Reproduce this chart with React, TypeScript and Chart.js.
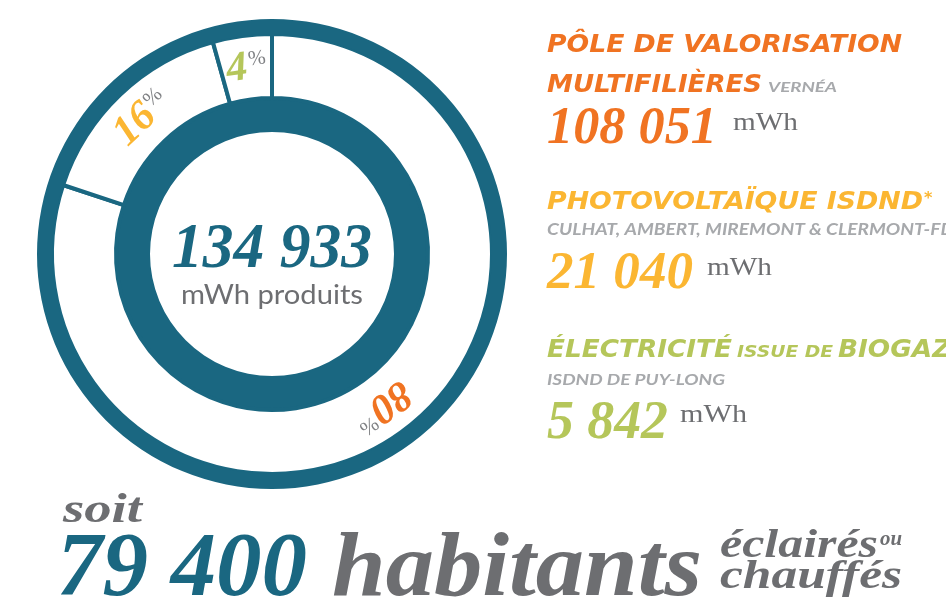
import { useEffect, useRef } from 'react';
import { Chart, registerables } from 'chart.js';

Chart.register(...registerables);

// ---- data ----
const categories = ['Pôle de valorisation multifilières', 'Photovoltaïque ISDND', 'Électricité issue de biogaz'];
const productionMWh = [108051, 21040, 5842];
const inhabitants = 79400;

const headingLine1 = ['PÔLE DE VALORISATION', 'PHOTOVOLTAÏQUE ISDND', 'ÉLECTRICITÉ'];
const headingLine2 = ['MULTIFILIÈRES', '', ''];
const headingSmall = ['VERNÉA', '', 'ISSUE DE'];
const headingTail = ['', '*', 'BIOGAZ'];
const siteLabels = ['', 'CULHAT, AMBERT, MIREMONT & CLERMONT-FD', 'ISDND DE PUY-LONG'];

const TEAL = '#1a6781';
const ORANGE = '#f07322';
const YELLOW = '#fbb632';
const GREEN = '#b5c65a';
const GREY = '#6d6e71';
const LGREY = '#a7a9ac';
const seriesColors = [ORANGE, YELLOW, GREEN];

const fmt = (n: number) => String(n).replace(/\B(?=(\d{3})+(?!\d))/g, ' ');

const serifBI = (s: number) => `italic bold ${s}px "Liberation Serif"`;
const serifR = (s: number) => `${s}px "Liberation Serif"`;
const headBI = (s: number) => `italic bold ${s}px "DejaVu Sans"`;
const sansBI = (s: number) => `italic bold ${s}px Lato`;
const sansR = (s: number) => `${s}px Lato`;

function put(ctx: CanvasRenderingContext2D, text: string, x: number, y: number, font: string, color: string, width = 0, sx = 0) {
  ctx.save();
  ctx.font = font;
  ctx.fillStyle = color;
  ctx.textAlign = 'left';
  ctx.textBaseline = 'alphabetic';
  const m = ctx.measureText(text).width || 1;
  const s = sx || (width ? width / m : 1);
  ctx.translate(x, y);
  ctx.scale(s, 1);
  ctx.fillText(text, 0, 0);
  ctx.restore();
  return s;
}

const textPlugin = {
  id: 'infoText',
  afterDraw(chart: any) {
    const ctx: CanvasRenderingContext2D = chart.ctx;
    const total = productionMWh.reduce((a, b) => a + b, 0);

    // percent labels on segments
    const meta = chart.getDatasetMeta(1);
    meta.data.forEach((arc: any, i: number) => {
      const a = (arc.startAngle + arc.endAngle) / 2;
      const r = (arc.innerRadius + arc.outerRadius) / 2 + 3;
      const px = arc.x + Math.cos(a) * r;
      const py = arc.y + Math.sin(a) * r;
      const pct = String(Math.round((productionMWh[i] / total) * 100));
      ctx.save();
      ctx.translate(px, py);
      ctx.rotate(a + Math.PI / 2);
      ctx.font = serifBI(42);
      const nw = ctx.measureText(pct).width;
      ctx.font = serifR(21);
      const pw = ctx.measureText('%').width;
      const tw = nw + 2 + pw;
      ctx.textBaseline = 'alphabetic';
      ctx.font = serifBI(42);
      ctx.fillStyle = seriesColors[i];
      ctx.fillText(pct, -tw / 2, 14);
      ctx.font = serifR(21);
      ctx.fillStyle = '#808285';
      ctx.fillText('%', -tw / 2 + nw + 2, 1);
      ctx.restore();
    });

    // center
    const cx = meta.data[0] ? meta.data[0].x : 272;
    put(ctx, fmt(total), cx - 100, 267, serifBI(63), TEAL, 200);
    put(ctx, 'mWh produits', cx - 91, 304, sansR(26), GREY, 182);

    // right column
    put(ctx, headingLine1[0], 547, 52, headBI(24), ORANGE, 355);
    put(ctx, headingLine2[0], 547, 92, headBI(24), ORANGE, 215);
    put(ctx, headingSmall[0], 768, 92, sansBI(14), LGREY, 69);
    put(ctx, fmt(productionMWh[0]), 547, 143, serifBI(53), ORANGE, 170);
    put(ctx, 'mWh', 733, 130, serifR(26), GREY, 65);

    put(ctx, headingLine1[1], 547, 209, headBI(24), YELLOW, 376);
    put(ctx, headingTail[1], 924, 203, headBI(16), YELLOW);
    put(ctx, siteLabels[1], 547, 235, sansBI(17), LGREY, 407);
    put(ctx, fmt(productionMWh[1]), 547, 288, serifBI(53), YELLOW, 146);
    put(ctx, 'mWh', 707, 275, serifR(26), GREY, 65);

    const s2 = put(ctx, headingLine1[2], 547, 357, headBI(24), GREEN, 185);
    put(ctx, headingSmall[2], 737, 357, headBI(16), GREEN, 96);
    put(ctx, headingTail[2], 838, 357, headBI(24), GREEN, 0, s2);
    put(ctx, siteLabels[2], 547, 385, sansBI(16), LGREY, 178);
    put(ctx, fmt(productionMWh[2]), 547, 438, serifBI(54), GREEN, 121);
    put(ctx, 'mWh', 680, 422, serifR(26), GREY, 67);

    // bottom
    put(ctx, 'soit', 63, 522, serifBI(42), GREY, 79);
    put(ctx, fmt(inhabitants), 57, 595, serifBI(92), TEAL, 250);
    put(ctx, 'habitants', 332, 595, serifBI(92), GREY, 370);
    put(ctx, 'éclairés', 720, 557, serifBI(41), GREY, 158);
    put(ctx, 'ou', 880, 545, serifBI(22), GREY, 22);
    put(ctx, 'chauffés', 720, 588, serifBI(40), GREY, 182);
  },
};

export default function App() {
  const ref = useRef<HTMLCanvasElement | null>(null);
  useEffect(() => {
    if (!ref.current) return;
    const total = productionMWh.reduce((a, b) => a + b, 0);
    const chart = new Chart(ref.current, {
      type: 'doughnut',
      data: {
        labels: categories,
        datasets: [
          { data: [total], backgroundColor: TEAL, borderWidth: 0, hoverBorderWidth: 0, weight: 15 } as any,
          { data: productionMWh, backgroundColor: '#ffffff', borderColor: TEAL, borderWidth: 4, hoverBorderWidth: 4, weight: 64 } as any,
          { data: [total], backgroundColor: TEAL, borderWidth: 0, hoverBorderWidth: 0, weight: 34 } as any,
        ],
      },
      options: {
        responsive: false,
        animation: false,
        events: [],
        cutout: 122,
        layout: { padding: { left: 37, top: 19, right: 946 - 37 - 470, bottom: 599 - 19 - 470 } },
        plugins: { legend: { display: false }, tooltip: { enabled: false } },
      } as any,
      plugins: [textPlugin],
    });
    let alive = true;
    const fonts = [serifBI(20), serifR(20), headBI(20), sansBI(20), sansR(20)];
    Promise.all(fonts.map((f) => (document as any).fonts.load(f)))
      .catch(() => null)
      .then(() => {
        if (alive) chart.update();
      });
    return () => {
      alive = false;
      chart.destroy();
    };
  }, []);
  return (
    <div style={{ position: 'absolute', left: 0, top: 0, width: 946, height: 599, background: '#fff', overflow: 'hidden' }}>
      <canvas ref={ref} width={946} height={599} style={{ display: 'block', width: 946, height: 599 }} />
    </div>
  );
}
